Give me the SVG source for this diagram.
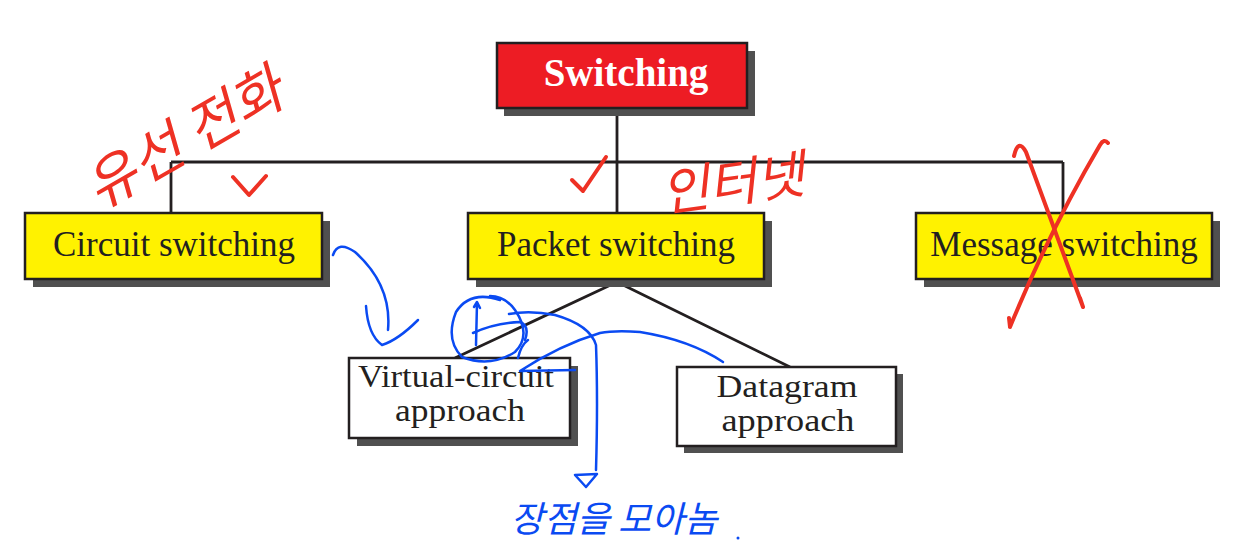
<svg xmlns="http://www.w3.org/2000/svg" width="1237" height="545" viewBox="0 0 1237 545">
<style>
.shadow{fill:#505050}
.box{stroke:#231f20;stroke-width:2.5}
.yellow{fill:#fff200}
.white{fill:#ffffff}
.lbl{font-family:"Liberation Serif","Times New Roman",serif;font-size:35px;fill:#231f20;text-anchor:middle}
.lbl2{font-family:"Liberation Serif","Times New Roman",serif;font-size:31px;fill:#231f20;text-anchor:middle}
.conn{stroke:#231f20;stroke-width:2.8;fill:none}
.red{stroke:#ee3124;stroke-width:4;fill:none;stroke-linecap:round;stroke-linejoin:round}
.blue{stroke:#0a4af2;stroke-width:2.5;fill:none;stroke-linecap:round;stroke-linejoin:round}
.hw{font-family:"Noto Sans CJK KR","Noto Sans",sans-serif;font-style:italic}
</style>
<rect width="1237" height="545" fill="#ffffff"/>
<g id="connectors">
<path class="conn" d="M617 108 V162 M171 162 H1063 M171 162 V213 M617 162 V213 M1063 162 V213"/>
<path class="conn" d="M617 282 L455 358 M617 282 L790 367"/>
</g>
<g id="switching">
<rect class="shadow" x="504" y="51" width="251" height="65"/>
<rect class="box" x="497" y="43" width="250" height="65" fill="#ed1c24"/>
<text x="626" y="86" font-family="Liberation Serif,'Times New Roman',serif" font-size="39" font-weight="bold" fill="#ffffff" text-anchor="middle">Switching</text>
</g>
<g id="circuit">
<rect class="shadow" x="33" y="221" width="297" height="66"/>
<rect class="box yellow" x="25" y="213" width="297" height="66"/>
<text class="lbl" x="174" y="256">Circuit switching</text>
</g>
<g id="packet">
<rect class="shadow" x="476" y="221" width="296" height="66"/>
<rect class="box yellow" x="468" y="213" width="296" height="66"/>
<text class="lbl" x="616" y="256">Packet switching</text>
</g>
<g id="message">
<rect class="shadow" x="924" y="221" width="296" height="66"/>
<rect class="box yellow" x="916" y="213" width="296" height="66"/>
<text class="lbl" x="1064" y="256">Message switching</text>
</g>
<g id="virtual">
<rect class="shadow" x="357" y="366" width="221" height="80"/>
<rect class="box white" x="349" y="358" width="221" height="80"/>
<text class="lbl2" x="456" y="387" textLength="196" lengthAdjust="spacingAndGlyphs">Virtual-circuit</text>
<text class="lbl2" x="460" y="421" textLength="130" lengthAdjust="spacingAndGlyphs">approach</text>
</g>
<g id="datagram">
<rect class="shadow" x="684" y="374" width="219" height="79"/>
<rect class="box white" x="677" y="367" width="219" height="79"/>
<text class="lbl2" x="787" y="397" textLength="141" lengthAdjust="spacingAndGlyphs">Datagram</text>
<text class="lbl2" x="788" y="431" textLength="133" lengthAdjust="spacingAndGlyphs">approach</text>
</g>
<g id="annotations">
<text class="hw" x="185" y="158" font-size="56" fill="#ee3124" text-anchor="middle" transform="rotate(-30 185 140)">유선 전화</text>
<path class="red" d="M233 177 L249 195 L266 176"/>
<path class="red" d="M572 180 L583 191 L606 157"/>
<text class="hw" x="732" y="202" font-size="52" fill="#ee3124" text-anchor="middle" transform="rotate(-8 732 180)">인터넷</text>
<path class="red" d="M1014 156 Q1018 138 1026 152 Q1055 230 1083 307 M1080 298 L1083 307"/>
<path class="red" d="M1108 143 Q1104 138 1100 145 Q1050 230 1010 327 M1009 318 L1010 327"/>
<path class="blue" d="M333 255 Q338 240 355 252 Q392 285 388 330"/>
<path class="blue" d="M366 306 Q368 335 382 345 Q398 340 418 320"/>
<path class="blue" d="M500 300 Q470 290 456 312 Q445 340 462 357 Q490 368 515 352 Q532 335 515 310 Q505 296 490 296"/>
<path class="blue" d="M476 345 L477 303 M474 307 L477 302 L480 308"/>
<path class="blue" d="M473 333 Q495 323 520 322 Q530 326 525 340"/>
<path class="blue" d="M509 314 Q530 310 555 315 Q590 325 596 345 Q598 400 596 470"/>
<path class="blue" d="M575 475 L597 474 L586 487 Z"/>
<path class="blue" d="M518 358 Q521 345 528 340"/>
<path class="blue" d="M575 370 L520 371 Q560 345 600 333 Q615 330 640 332 Q690 340 723 362"/>
<text class="hw" x="614" y="532" font-size="36" fill="#0a4af2" text-anchor="middle">장점을 모아놈</text>
<circle cx="738" cy="538" r="1.5" fill="#0a4af2"/>
</g>
</svg>
